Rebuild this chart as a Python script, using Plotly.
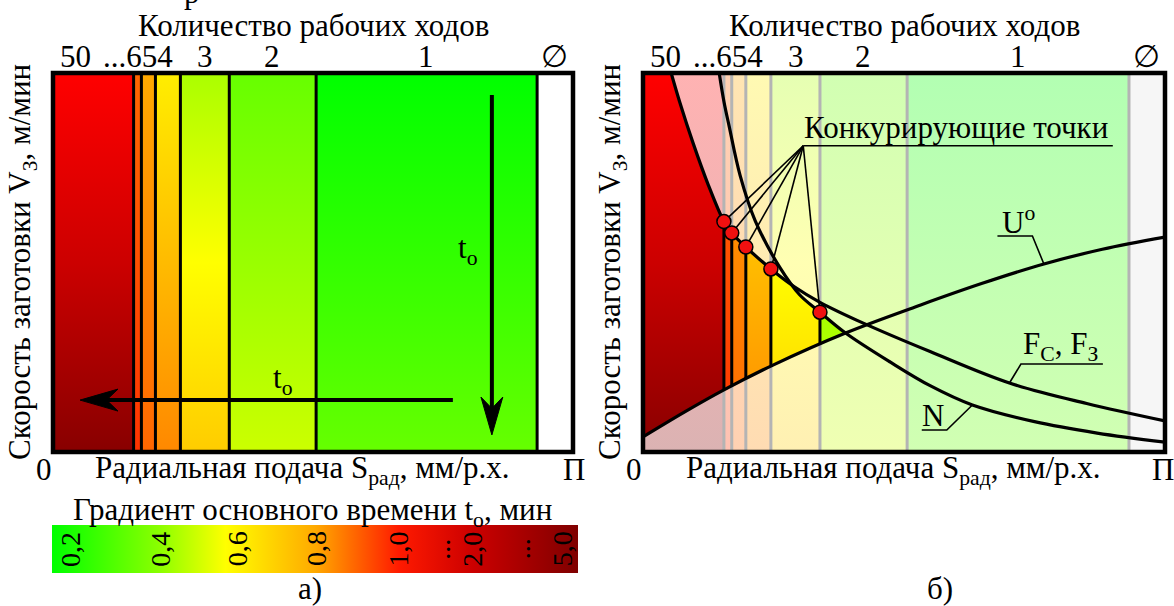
import numpy as np
import plotly.graph_objects as go

W, H = 1174, 606
FONT = "Liberation Serif, Times New Roman, DejaVu Serif, serif"

# ---------------- data ----------------
strip_edges = [0, 15.5, 17.0, 19.7, 24.5, 33.9, 50.6, 93.1, 100]
strip_top = ["#ff0000", "#ff6600", "#ffaa00", "#ffee00", "#aaff00", "#66ff00", "#00ff00", "#ffffff"]
strip_mid = ["#cc0000", "#ff5000", "#ff8800", "#ffbb00", "#ffff00", "#99ff00", "#33ff00", "#ffffff"]
strip_bottom = ["#880000", "#ff3300", "#ff6600", "#ff8800", "#ffcc00", "#ccff00", "#66ff00", "#ffffff"]

pass_labels = ["50", "...654", "3", "2", "1", "∅"]
pass_label_x = [4.4, 16.3, 29.3, 42.2, 71.8, 96.4]

F_x = [5.4, 7.0, 9.6, 12.5, 15.5, 17.0, 19.7, 24.5, 29.0, 33.9, 42.2, 55.0, 70.2, 85.0, 100.0]
F_y = [100, 92.5, 81.5, 70.5, 60.8, 57.8, 54.1, 48.3, 43.6, 39.5, 34.0, 26.5, 18.2, 12.8, 8.2]
N_x = [14.6, 15.5, 16.5, 18.6, 21.5, 26.3, 30.0, 33.9, 38.8, 47.4, 55.0, 63.1, 75.0, 87.0, 100.0]
N_y = [100, 92.5, 86.0, 73.0, 61.0, 48.5, 41.5, 36.9, 31.4, 23.7, 17.5, 12.4, 8.0, 5.0, 2.6]
U_x = [0, 8, 15.5, 25, 38.8, 53.2, 65, 76.8, 88, 100]
U_y = [4.0, 10.6, 16.4, 23.0, 31.4, 38.8, 44.5, 49.6, 53.5, 56.7]

point_x = [15.5, 17.0, 19.7, 24.5, 33.9]
point_y = [60.8, 57.8, 54.1, 48.3, 36.9]

cb_stops = [0, 0.2, 0.33, 0.5, 0.66, 0.8, 1.0]
cb_colors = ["#00ff00", "#88ff00", "#ffff00", "#ffaa00", "#ff1a00", "#cc0000", "#7f0000"]
cb_label_x = [3.4, 20.5, 35.2, 50.2, 65.7, 73.7, 79.8, 89.0, 97.0]
cb_labels = ["0,2", "0,4", "0,6", "0,8", "1,0", "...", "2,0", "...", "5,0"]

# ---------------- layout geometry (pixels) ----------------
PANEL_X = {1: (53, 573), 2: (643, 1165)}
PANEL_Y = (73, 452)          # top, bottom
CB_X, CB_Y = (52, 578), (525, 573)

fig = go.Figure()


def grad(i):
    return dict(type="vertical", start=0, stop=100,
                colorscale=[[0, strip_bottom[i]], [0.5, strip_mid[i]], [1, strip_top[i]]])


def add(tr, panel):
    ax = {1: ("x", "y"), 2: ("x2", "y2"), 3: ("x3", "y3")}[panel]
    tr.update(xaxis=ax[0], yaxis=ax[1], hoverinfo="skip", showlegend=False)
    fig.add_trace(tr)


nstrip = len(strip_edges) - 1

# ----- left panel strips -----
for i in range(nstrip):
    a, b = strip_edges[i], strip_edges[i + 1]
    add(go.Scatter(x=[a, b, b, a, a], y=[0, 0, 100, 100, 0], fill="toself",
                   fillgradient=grad(i), mode="lines", line=dict(width=0)), 1)

sx, sy = [], []
for e in strip_edges[1:-1]:
    sx += [e, e, None]
    sy += [0, 100, None]
add(go.Scatter(x=sx, y=sy, mode="lines", line=dict(color="black", width=3)), 1)

# arrows (left)
AV_X, AV_Y0, AV_Y1 = 84.4, 94.2, 4.5
AH_Y, AH_X0, AH_X1 = 13.7, 76.9, 5.2
add(go.Scatter(x=[AV_X, AV_X], y=[AV_Y0, AV_Y1 + 6], mode="lines",
               line=dict(color="black", width=4)), 1)
add(go.Scatter(x=[AV_X, AV_X - 2.1, AV_X, AV_X + 2.1, AV_X],
               y=[AV_Y1, AV_Y1 + 10, AV_Y1 + 7, AV_Y1 + 10, AV_Y1],
               fill="toself", fillcolor="black", mode="lines", line=dict(color="black", width=1)), 1)
add(go.Scatter(x=[AH_X0, AH_X1 + 4], y=[AH_Y, AH_Y], mode="lines",
               line=dict(color="black", width=4)), 1)
add(go.Scatter(x=[AH_X1, AH_X1 + 7.3, AH_X1 + 5.1, AH_X1 + 7.3, AH_X1],
               y=[AH_Y, AH_Y + 2.9, AH_Y, AH_Y - 2.9, AH_Y],
               fill="toself", fillcolor="black", mode="lines", line=dict(color="black", width=1)), 1)

# ----- right panel -----
for i in range(nstrip):
    a, b = strip_edges[i], strip_edges[i + 1]
    if i == nstrip - 1:
        add(go.Scatter(x=[a, b, b, a, a], y=[0, 0, 100, 100, 0], fill="toself",
                       fillcolor="#f6f6f6", mode="lines", line=dict(width=0)), 2)
    else:
        add(go.Scatter(x=[a, b, b, a, a], y=[0, 0, 100, 100, 0], fill="toself",
                       fillgradient=grad(i), mode="lines", line=dict(width=0), opacity=0.3), 2)

add(go.Scatter(x=sx, y=sy, mode="lines", line=dict(color="#b4b4b4", width=3)), 2)


def upper(x):
    return np.minimum.reduce([np.full_like(x, 100.0), np.interp(x, F_x, F_y), np.interp(x, N_x, N_y)])


def lower(x):
    return np.interp(x, U_x, U_y)


for i in range(nstrip - 1):
    a, b = strip_edges[i], strip_edges[i + 1]
    xs = np.linspace(a, b, 200)
    up, lo = upper(xs), lower(xs)
    keep = up >= lo
    if not keep.any():
        continue
    xk, uk, lk = xs[keep], up[keep], lo[keep]
    px = list(xk) + list(xk[::-1]) + [xk[0]]
    py = list(uk) + list(lk[::-1]) + [uk[0]]
    add(go.Scatter(x=px, y=py, fill="toself", fillgradient=grad(i), mode="lines",
                   line=dict(width=0)), 2)

vx, vy = [], []
for xv, yv in zip(point_x, point_y):
    vx += [xv, xv, None]
    vy += [float(np.interp(xv, U_x, U_y)), yv, None]
add(go.Scatter(x=vx, y=vy, mode="lines", line=dict(color="black", width=3)), 2)

for cx, cy in [(F_x, F_y), (N_x, N_y), (U_x, U_y)]:
    add(go.Scatter(x=cx, y=cy, mode="lines", line=dict(color="black", width=3.2, shape="spline")), 2)

# leaders
CONV = (30.7, 80.8)
lx, ly = [], []
for xv, yv in zip(point_x, point_y):
    lx += [CONV[0], xv, None]
    ly += [CONV[1], yv, None]
lx += [CONV[0], 90.0, None]
ly += [CONV[1], CONV[1], None]
lx += [67.9, 74.6, 76.8, None]
ly += [57.0, 57.0, 49.6, None]
lx += [88.1, 72.4, 70.2, None]
ly += [23.2, 23.2, 18.2, None]
lx += [53.4, 58.2, 63.1, None]
ly += [5.8, 5.8, 12.4, None]
add(go.Scatter(x=lx, y=ly, mode="lines", line=dict(color="black", width=1.6)), 2)

add(go.Scatter(x=point_x, y=point_y, mode="markers",
               marker=dict(size=14, color="#f01010", line=dict(color="black", width=1.5))), 2)

# ----- colorbar -----
add(go.Scatter(x=[0, 100, 100, 0, 0], y=[0, 0, 1, 1, 0], fill="toself", mode="lines",
               line=dict(width=0),
               fillgradient=dict(type="horizontal", start=0, stop=100,
                                 colorscale=[[s, c] for s, c in zip(cb_stops, cb_colors)])), 3)

# ---------------- annotations ----------------
ann = []
FS = 31


def txt(text, x, y, xref, yref, size=FS, angle=0):
    ann.append(dict(text=text, x=x, y=y, xref=xref, yref=yref, showarrow=False,
                    textangle=angle, font=dict(family=FONT, size=size, color="black"),
                    xanchor="center", yanchor="middle"))


def ptxt(text, px, py, size=FS, angle=0):
    txt(text, px / W, (H - py) / H, "paper", "paper", size, angle)


for p in (1, 2):
    x0, x1 = PANEL_X[p]
    scale = (x1 - x0) / 100.0
    ptxt("Количество рабочих ходов", x0 + 50.0 * scale, 25)
    for lab, lxp in zip(pass_labels, pass_label_x):
        ptxt(lab, x0 + lxp * scale, 57)
    ptxt("0", x0 - 9, 470)
    ptxt("П", min(x1 + 1, W - 11), 470)
    ptxt("Радиальная подача S<sub>рад</sub>, мм/р.х.", x0 + 48.0 * scale, 470)
    ptxt("Скорость заготовки V<sub>З</sub>, м/мин", x0 - 31, 262, angle=-90)

txt("t<sub>o</sub>", 79.8, 53.3, "x", "y")
txt("t<sub>o</sub>", 44.2, 19.0, "x", "y")

txt("Конкурирующие точки", 59.9, 85.6, "x2", "y2")
txt("U<sup>o</sup>", 72.0, 61.2, "x2", "y2")
txt("F<sub>C</sub>, F<sub>З</sub>", 80.0, 27.9, "x2", "y2")
txt("N", 55.6, 9.6, "x2", "y2")

for lab, xp in zip(cb_labels, cb_label_x):
    txt(lab, xp, 0.5, "x3", "y3", size=28, angle=-90)

ptxt("Градиент основного времени t<sub>o</sub>, мин", 312, 512)
ptxt("а)", 310, 588)
ptxt("б)", 940, 588)
ptxt("р", 192, -8)

axstyle = dict(showgrid=False, zeroline=False, showticklabels=False, ticks="",
               showline=False, fixedrange=True)
ydom = [(H - PANEL_Y[1]) / H, (H - PANEL_Y[0]) / H]

border = dict(type="rect", x0=0, x1=1, y0=0, y1=1, line=dict(color="black", width=4.5), layer="above")

fig.update_layout(
    width=W, height=H, margin=dict(l=0, r=0, t=0, b=0),
    paper_bgcolor="white", plot_bgcolor="white", showlegend=False,
    xaxis=dict(domain=[PANEL_X[1][0] / W, PANEL_X[1][1] / W], range=[0, 100], anchor="y", **axstyle),
    yaxis=dict(domain=ydom, range=[0, 100], anchor="x", **axstyle),
    xaxis2=dict(domain=[PANEL_X[2][0] / W, PANEL_X[2][1] / W], range=[0, 100], anchor="y2", **axstyle),
    yaxis2=dict(domain=ydom, range=[0, 100], anchor="x2", **axstyle),
    xaxis3=dict(domain=[CB_X[0] / W, CB_X[1] / W], range=[0, 100], anchor="y3", **axstyle),
    yaxis3=dict(domain=[(H - CB_Y[1]) / H, (H - CB_Y[0]) / H], range=[0, 1], anchor="x3", **axstyle),
    annotations=ann,
    shapes=[dict(border, xref="x domain", yref="y domain"),
            dict(border, xref="x2 domain", yref="y2 domain")],
)

fig.write_html("out.html", config={"displayModeBar": False},
               post_script="document.body.style.margin='0';document.body.style.overflow='hidden';")
